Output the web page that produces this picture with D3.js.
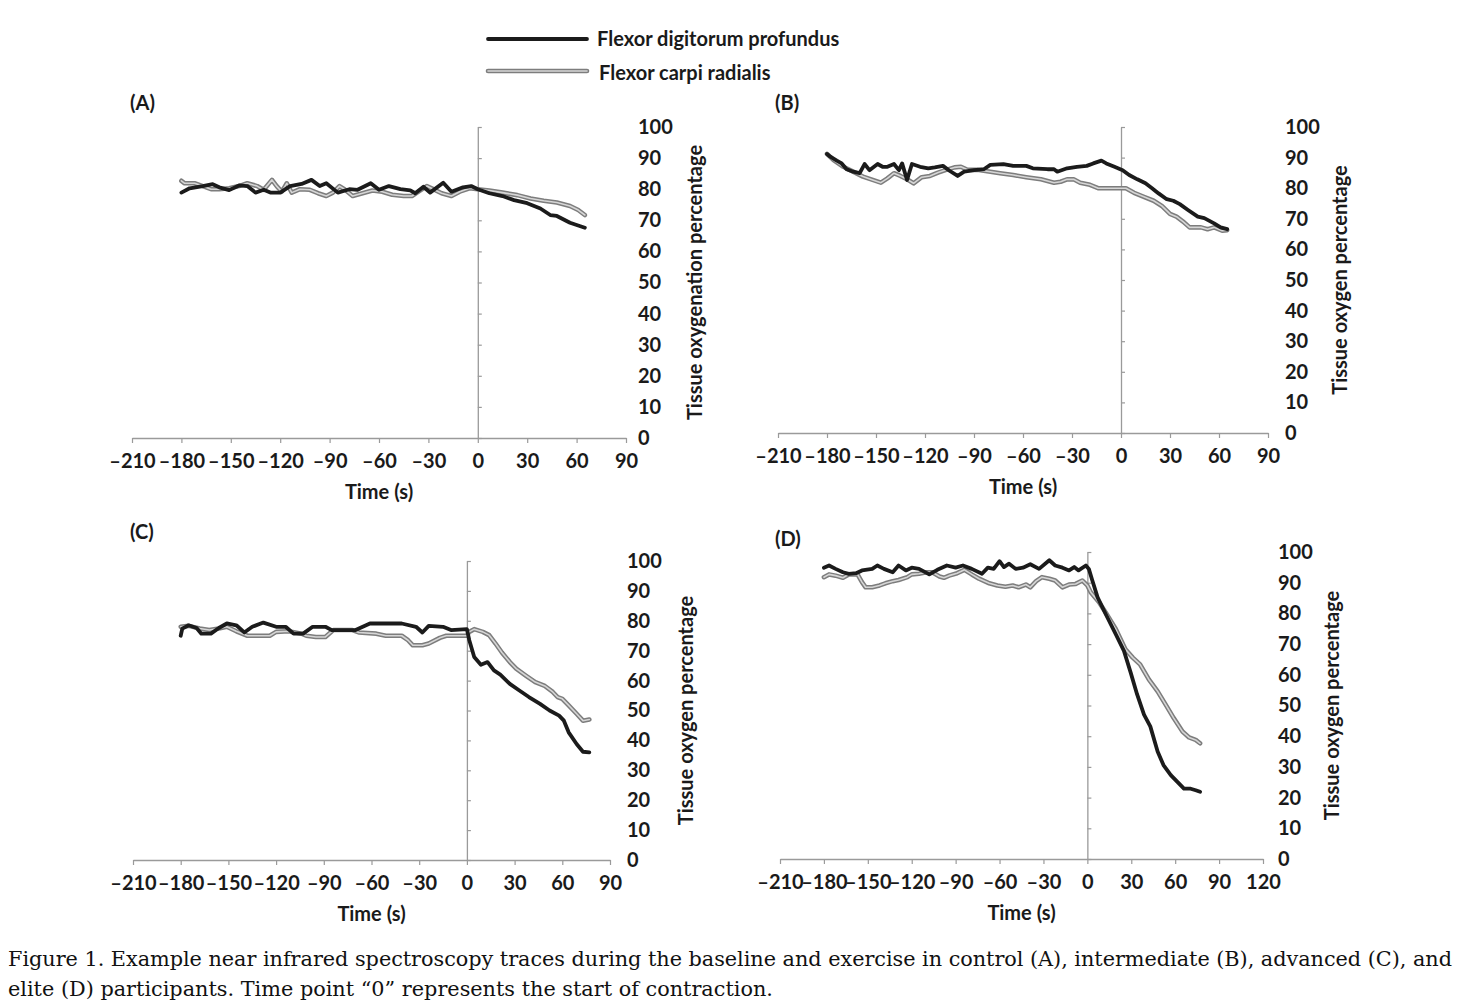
<!DOCTYPE html>
<html>
<head>
<meta charset="utf-8">
<script src="https://cdn.jsdelivr.net/npm/d3@7"></script>
<style>
  body { margin: 0; background: #fff; }
  text { font-family: Lato, "Open Sans", sans-serif; font-weight: 700; fill: #1a1a1a; }
  .caption { font-family: "DejaVu Serif", serif; font-weight: 400; fill: #111; }
</style>
</head>
<body>
<svg id="fig" width="1464" height="1006"></svg>
<script>

// tick values
var xTicks90 = [-210, -180, -150, -120, -90, -60, -30, 0, 30, 60, 90];
var xTicks120 = [-210, -180, -150, -120, -90, -60, -30, 0, 30, 60, 90, 120];
var yTicks = [0, 10, 20, 30, 40, 50, 60, 70, 80, 90, 100];

// series names
var seriesNames = ["Flexor digitorum profundus", "Flexor carpi radialis"];

// (A) control  -- [time (s), tissue O2 %]
var fdpA = [[-180,78.9],[-175,80.3],[-167,81.0],[-161,81.6],[-157,80.6],[-151,79.7],[-145,81.2],[-140,81.0],[-135,78.9],[-130,79.8],[-126,78.9],[-120,78.9],[-114,81.0],[-107,81.7],[-101,83.0],[-96,81.0],[-92,81.9],[-85,78.9],[-78,80.0],[-73,79.8],[-65,81.9],[-60,79.8],[-54,81.0],[-47,80.0],[-41,79.6],[-38,78.7],[-33,80.8],[-29,78.9],[-21,82.1],[-16,79.2],[-9,80.6],[-4,81.0],[0,80.0],[7,78.7],[15,77.8],[22,76.5],[30,75.5],[38,73.8],[44,71.7],[48,71.4],[56,69.2],[65,67.6]];
var fcrA = [[-180,82.7],[-178,81.9],[-172,81.9],[-167,81.0],[-162,80.0],[-157,80.0],[-151,80.3],[-145,81.0],[-140,81.9],[-134,81.0],[-130,79.8],[-125,83.0],[-122,80.9],[-119,79.2],[-116,81.9],[-113,78.9],[-108,80.0],[-102,79.8],[-97,78.7],[-92,77.8],[-88,78.9],[-84,81.0],[-81,80.0],[-76,77.8],[-70,78.7],[-64,79.6],[-58,79.2],[-52,78.2],[-45,77.8],[-40,77.8],[-36,79.2],[-31,81.0],[-27,80.0],[-22,78.7],[-16,77.8],[-11,79.2],[-5,80.3],[0,80.0],[7,79.6],[15,78.9],[24,78.1],[32,77.0],[40,76.3],[48,75.7],[56,74.6],[61,73.3],[65,71.7]];

// (B) intermediate
var fdpB = [[-180,91.2],[-178,90.3],[-174,89.0],[-171,88.1],[-168,86.2],[-164,85.4],[-160,84.9],[-157,87.9],[-154,85.9],[-149,87.9],[-146,87.0],[-143,87.0],[-139,87.9],[-136,85.9],[-134,88.1],[-131,82.7],[-128,87.9],[-123,87.0],[-118,86.5],[-114,86.8],[-109,87.3],[-105,85.7],[-100,84.0],[-96,85.4],[-90,85.9],[-84,86.2],[-80,87.6],[-72,87.9],[-66,87.3],[-58,87.3],[-54,86.5],[-45,86.2],[-41,86.2],[-39,85.4],[-33,86.5],[-27,87.0],[-21,87.3],[-17,88.1],[-12,89.0],[-9,88.1],[-4,87.0],[1,85.9],[5,84.3],[10,82.9],[15,81.6],[19,80.0],[23,78.3],[28,76.4],[32,75.9],[36,74.8],[41,72.9],[47,70.7],[51,70.2],[57,68.5],[61,67.2],[65,66.6]];
var fcrB = [[-180,91.2],[-176,89.2],[-170,87.0],[-164,85.4],[-158,83.8],[-152,82.7],[-147,81.8],[-143,83.2],[-139,84.9],[-135,84.0],[-131,82.9],[-127,81.6],[-122,83.6],[-117,84.0],[-112,85.1],[-107,86.0],[-102,86.8],[-98,87.0],[-94,86.0],[-88,86.0],[-84,85.7],[-80,85.4],[-74,84.9],[-66,84.3],[-58,83.6],[-49,82.9],[-41,81.8],[-37,82.1],[-33,82.9],[-29,82.9],[-25,81.8],[-19,81.1],[-14,80.0],[-9,80.0],[3,80.0],[8,78.5],[14,77.2],[20,75.9],[25,74.2],[30,71.6],[34,70.7],[38,69.1],[42,67.2],[49,67.2],[53,66.6],[57,67.2],[62,66.1],[65,66.3]];

// (C) advanced
var fdpC = [[-180,75.0],[-179,77.4],[-175,78.5],[-170,77.6],[-167,75.7],[-161,75.7],[-156,77.6],[-151,79.1],[-145,78.5],[-140,76.1],[-135,78.0],[-128,79.4],[-120,78.0],[-114,78.0],[-109,75.7],[-103,75.7],[-97,78.0],[-89,78.0],[-85,76.9],[-70,76.9],[-61,79.1],[-41,79.1],[-32,78.0],[-28,76.1],[-24,78.3],[-15,78.0],[-10,76.9],[0,77.2],[1.5,73.5],[4.6,67.9],[8.8,65.3],[13,66.2],[17,63.4],[21,62.0],[27,58.9],[33,56.7],[39,54.5],[46,52.2],[52,50.0],[58,48.3],[61,46.6],[64,42.7],[69,38.8],[73,36.2],[77,36.0]];
var fcrC = [[-180,78.0],[-175,78.3],[-168,77.4],[-162,76.9],[-156,77.4],[-151,78.0],[-145,76.5],[-138,75.0],[-131,75.0],[-124,75.0],[-120,76.3],[-112,76.5],[-104,75.7],[-101,75.0],[-95,74.6],[-89,74.6],[-84,76.9],[-72,76.9],[-68,76.1],[-57,75.7],[-51,75.0],[-41,75.0],[-37,73.5],[-34,71.8],[-28,71.8],[-24,72.4],[-17,74.3],[-13,75.0],[0,75.0],[1.5,76.3],[4.6,77.2],[10,76.3],[14,75.2],[18,72.4],[22,69.4],[27,66.2],[31,64.0],[37,61.7],[43,59.5],[49,58.2],[54,56.2],[57,54.5],[60,53.9],[64,51.7],[69,48.9],[73,46.6],[77,47.0]];

// (D) elite
var fdpD = [[-180,94.9],[-176.5,95.6],[-172,94.5],[-167,93.4],[-163,92.9],[-158,93.1],[-154,94.0],[-147,94.5],[-143.5,95.6],[-139,94.5],[-133,93.4],[-129,95.6],[-124,94.0],[-120,94.9],[-115,94.5],[-108,92.7],[-102.5,94.2],[-96,95.6],[-90,94.9],[-85,95.6],[-79,94.5],[-72,92.9],[-68,94.9],[-64,94.5],[-60,97.0],[-57,95.1],[-53.5,96.2],[-49,94.5],[-44,94.9],[-39,96.0],[-33,94.5],[-26,97.3],[-22,95.6],[-17,94.9],[-12.5,94.0],[-9,95.1],[-6,94.0],[-1,95.6],[1,94.5],[3.4,90.7],[7,85.2],[12.5,79.8],[19.4,73.2],[25,67.8],[29.6,60.7],[34,53.6],[38.7,47.0],[43,43.2],[48,35.0],[52,30.6],[57,27.3],[61.5,25.1],[66,22.9],[70.6,22.9],[74,22.4],[77,21.9]];
var fcrD = [[-180,91.8],[-176.5,92.7],[-172,92.3],[-167,91.6],[-163,92.7],[-157,92.7],[-154,90.2],[-151.5,88.5],[-147,88.5],[-142,89.1],[-138,89.8],[-133,90.5],[-129,90.9],[-123,91.8],[-120,92.7],[-115,92.9],[-110,93.4],[-106,93.4],[-101,92.0],[-98,91.6],[-94.5,92.3],[-89,93.1],[-84,94.2],[-79,92.7],[-74,91.3],[-67,89.8],[-61.5,89.1],[-56,88.7],[-51,89.1],[-47,88.5],[-42,89.4],[-39,88.5],[-35,90.5],[-31,91.8],[-26,91.3],[-22,90.7],[-17,88.5],[-12.5,89.4],[-8,89.6],[-3.4,90.7],[0,89.1],[2.3,86.9],[8,83.6],[12.5,80.3],[19.4,74.9],[26,68.3],[31,65.6],[36,63.4],[42,58.5],[48,54.6],[53.5,50.3],[59,45.9],[65,41.5],[69.5,39.6],[74,38.8],[77,37.7]];

var captionLines = [
  "Figure 1. Example near infrared spectroscopy traces during the baseline and exercise in control (A), intermediate (B), advanced (C), and",
  "elite (D) participants. Time point \u201c0\u201d represents the start of contraction."
];

//panel layout (pixel boxes)
var panels = [
  {name: "(A)", fdp: fdpA, fcr: fcrA, ticks: xTicks90, title: "Tissue oxygenation percentage",
   left: 132, right: 626, top: 127, bottom: 438, labelX: 638, titleX: 695, letterX: 130, letterY: 103},
  {name: "(B)", fdp: fdpB, fcr: fcrB, ticks: xTicks90, title: "Tissue oxygen percentage",
   left: 778, right: 1268, top: 127, bottom: 433, labelX: 1285, titleX: 1340, letterX: 775, letterY: 103},
  {name: "(C)", fdp: fdpC, fcr: fcrC, ticks: xTicks90, title: "Tissue oxygen percentage",
   left: 133, right: 610, top: 561, bottom: 860, labelX: 627, titleX: 686, letterX: 130, letterY: 532},
  {name: "(D)", fdp: fdpD, fcr: fcrD, ticks: xTicks120, title: "Tissue oxygen percentage",
   left: 780, right: 1263, top: 552, bottom: 859, labelX: 1278, titleX: 1332, letterX: 775, letterY: 539}
];

var axisColor = "#9a9a9a";
var svg = d3.select("#fig");

//x labels use an en dash like the original
function timeFormat(d) {
  return d < 0 ? "\u2013" + Math.abs(d) : String(d);
}

function drawGrey(g, line, data) {
  g.append("path").datum(data).attr("d", line)
    .attr("fill", "none").attr("stroke", "#7d7d7d").attr("stroke-width", 4.6)
    .attr("stroke-linejoin", "round").attr("stroke-linecap", "round");
  g.append("path").datum(data).attr("d", line)
    .attr("fill", "none").attr("stroke", "#d6d6d6").attr("stroke-width", 1.6)
    .attr("stroke-linejoin", "round").attr("stroke-linecap", "round");
}

function drawBlack(g, line, data) {
  g.append("path").datum(data).attr("d", line)
    .attr("fill", "none").attr("stroke", "#1b1b1b").attr("stroke-width", 3.8)
    .attr("stroke-linejoin", "round").attr("stroke-linecap", "round");
}

panels.forEach(function (p) {
  var x = d3.scaleLinear()
    .domain([p.ticks[0], p.ticks[p.ticks.length - 1]])
    .range([p.left, p.right]);
  var y = d3.scaleLinear().domain([0, 100]).range([p.bottom, p.top]);

  var g = svg.append("g");

  //x axis along 0%
  var xAxis = g.append("g")
    .attr("transform", "translate(0," + y(0) + ")")
    .call(d3.axisBottom(x).tickValues(p.ticks).tickFormat(timeFormat)
      .tickSize(5).tickSizeOuter(0).tickPadding(11));

  //y axis at time 0, labels pushed out to the right edge
  var yAxis = g.append("g")
    .attr("transform", "translate(" + x(0) + ",0)")
    .call(d3.axisRight(y).tickValues(yTicks).tickSize(4).tickSizeOuter(0)
      .tickPadding(p.labelX - x(0) - 4));

  [xAxis, yAxis].forEach(function (a) {
    a.select(".domain").attr("stroke", axisColor).attr("stroke-width", 1.3);
    a.selectAll(".tick line").attr("stroke", axisColor).attr("stroke-width", 1.2);
    a.selectAll(".tick text")
      .attr("fill", "#1a1a1a")
      .style("font-family", "Lato, 'Open Sans', sans-serif")
      .style("font-weight", "700")
      .style("font-size", "20px");
  });
  yAxis.selectAll(".tick text").attr("text-anchor", "start");

  //traces
  var line = d3.line()
    .x(function (d) { return x(d[0]); })
    .y(function (d) { return y(d[1]); });
  drawGrey(g, line, p.fcr);
  drawBlack(g, line, p.fdp);

  //titles
  g.append("text")
    .attr("x", (x.range()[0] + x.range()[1]) / 2)
    .attr("y", y(0) + 61)
    .attr("text-anchor", "middle")
    .style("font-size", "20px")
    .text("Time (s)");

  g.append("text")
    .attr("transform", "translate(" + p.titleX + "," + ((p.top + p.bottom) / 2) + ") rotate(-90)")
    .attr("text-anchor", "middle")
    .attr("dy", "0.35em")
    .style("font-size", "20px")
    .text(p.title);

  g.append("text")
    .attr("x", p.letterX)
    .attr("y", p.letterY)
    .attr("dy", "0.35em")
    .style("font-size", "20px")
    .text(p.name);
});

//legend
var legend = svg.append("g");
var legendLine = d3.line();
drawBlack(legend, legendLine, [[488, 39], [587, 39]]);
drawGrey(legend, legendLine, [[488, 71], [587, 71]]);
legend.selectAll("text.leg")
  .data(seriesNames)
  .enter().append("text")
  .attr("class", "leg")
  .attr("x", function (d, i) { return i === 0 ? 597 : 599; })
  .attr("y", function (d, i) { return i === 0 ? 39 : 73; })
  .attr("dy", "0.35em")
  .style("font-size", "20px")
  .text(function (d) { return d; });

//caption
svg.selectAll("text.caption")
  .data(captionLines)
  .enter().append("text")
  .attr("class", "caption")
  .attr("x", 8)
  .attr("y", function (d, i) { return 966 + i * 30; })
  .style("font-size", "20.8px")
  .attr("textLength", function (d, i) { return i === 0 ? 1444 : null; })
  .attr("lengthAdjust", "spacing")
  .text(function (d) { return d; });

</script>
</body>
</html>
